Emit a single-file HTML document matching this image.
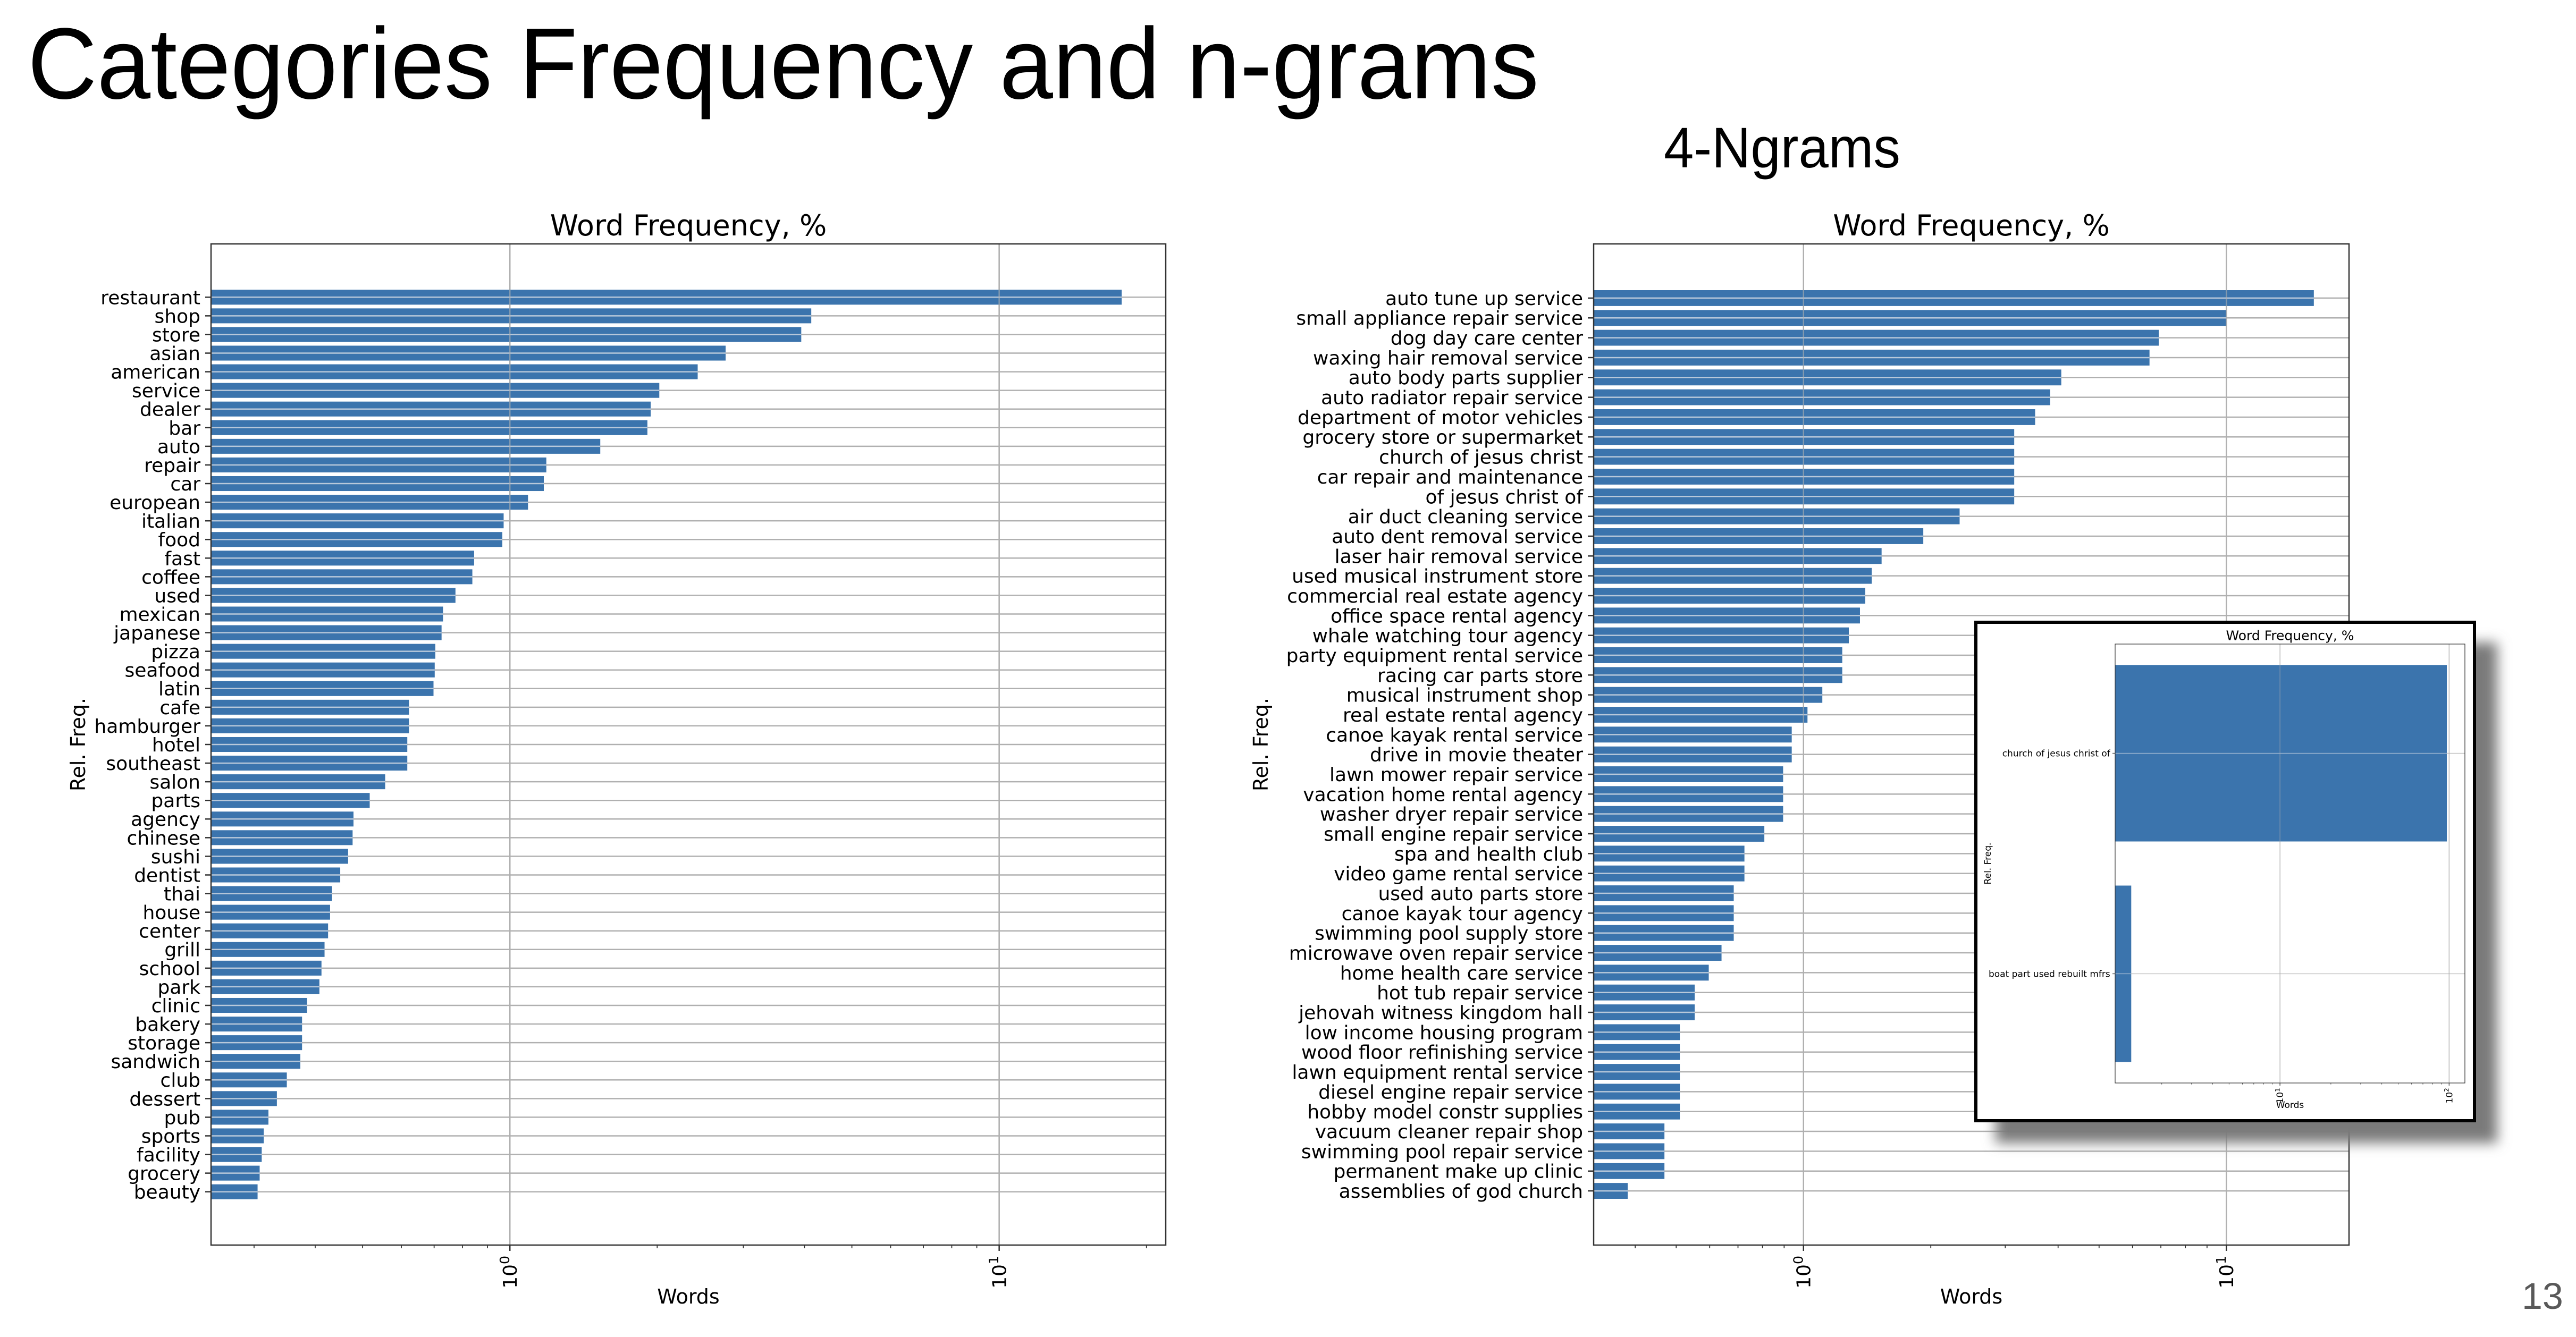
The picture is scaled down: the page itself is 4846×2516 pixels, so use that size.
<!DOCTYPE html>
<html><head><meta charset="utf-8"><style>
html,body{margin:0;padding:0;background:#fff;width:4846px;height:2516px;overflow:hidden}
svg{display:block}
text{font-family:"DejaVu Sans","Liberation Sans",sans-serif;fill:#000}
</style></head><body>
<svg id="root" width="4846" height="2516" viewBox="0 0 4846 2516" xmlns="http://www.w3.org/2000/svg">
<defs><filter id="blur" x="-10%" y="-10%" width="130%" height="130%"><feGaussianBlur stdDeviation="12"/></filter></defs>
<rect width="4846" height="2516" fill="#fff"/>
<text x="52" y="185" font-size="190" textLength="2843" lengthAdjust="spacingAndGlyphs" style="font-family:'Liberation Sans',sans-serif">Categories Frequency and n-grams</text>
<text x="3130" y="315" font-size="108" textLength="445" lengthAdjust="spacingAndGlyphs" style="font-family:'Liberation Sans',sans-serif">4-Ngrams</text>
<text x="4744" y="2463" font-size="70" style="font-family:'Liberation Sans',sans-serif;fill:#595959">13</text>
<g id="leftChart"></g>
<g id="rightChart"></g>
<g id="inset"></g>
</svg>
<script>
const leftCategories=["restaurant","shop","store","asian","american","service","dealer","bar","auto","repair","car","european","italian","food","fast","coffee","used","mexican","japanese","pizza","seafood","latin","cafe","hamburger","hotel","southeast","salon","parts","agency","chinese","sushi","dentist","thai","house","center","grill","school","park","clinic","bakery","storage","sandwich","club","dessert","pub","sports","facility","grocery","beauty"];
const leftValues=[17.8,4.13,3.94,2.76,2.42,2.02,1.94,1.91,1.53,1.187,1.173,1.089,0.971,0.965,0.845,0.838,0.774,0.730,0.725,0.704,0.702,0.698,0.622,0.622,0.617,0.617,0.556,0.517,0.479,0.477,0.467,0.450,0.433,0.429,0.425,0.418,0.412,0.408,0.385,0.376,0.376,0.373,0.350,0.334,0.321,0.314,0.311,0.308,0.305];
const rightCategories=["auto tune up service","small appliance repair service","dog day care center","waxing hair removal service","auto body parts supplier","auto radiator repair service","department of motor vehicles","grocery store or supermarket","church of jesus christ","car repair and maintenance","of jesus christ of","air duct cleaning service","auto dent removal service","laser hair removal service","used musical instrument store","commercial real estate agency","office space rental agency","whale watching tour agency","party equipment rental service","racing car parts store","musical instrument shop","real estate rental agency","canoe kayak rental service","drive in movie theater","lawn mower repair service","vacation home rental agency","washer dryer repair service","small engine repair service","spa and health club","video game rental service","used auto parts store","canoe kayak tour agency","swimming pool supply store","microwave oven repair service","home health care service","hot tub repair service","jehovah witness kingdom hall","low income housing program","wood floor refinishing service","lawn equipment rental service","diesel engine repair service","hobby model constr supplies","vacuum cleaner repair shop","swimming pool repair service","permanent make up clinic","assemblies of god church"];
const rightValues=[16.1,10.0,6.92,6.58,4.07,3.83,3.53,3.15,3.15,3.15,3.15,2.34,1.92,1.53,1.45,1.40,1.36,1.28,1.235,1.235,1.108,1.022,0.938,0.938,0.895,0.895,0.895,0.808,0.725,0.725,0.684,0.684,0.684,0.640,0.597,0.553,0.553,0.510,0.510,0.510,0.510,0.510,0.469,0.469,0.469,0.384];
const insetCategories=["church of jesus christ of","boat part used rebuilt mfrs"];
const insetValues=[97,1.32];
const xTickExponents=[-1,0,1,2];

const NS="http://www.w3.org/2000/svg";
function mk(parent,tag,attrs){const e=document.createElementNS(NS,tag);for(const k in attrs)e.setAttribute(k,attrs[k]);parent.appendChild(e);return e;}

function drawChart(g,cats,vals,c){
  const n=cats.length;
  const spacing=(c.bottom-c.top)/(n-1+2*c.pad);
  const yS=i=>c.top+(i+c.pad)*spacing;
  const lmin=Math.log10(c.xmin),lmax=Math.log10(c.xmax);
  const xS=v=>c.left+(Math.log10(v)-lmin)/(lmax-lmin)*(c.right-c.left);
  const bh=spacing*c.barFrac;
  for(const e of xTickExponents){const v=Math.pow(10,e);if(v<c.xmin||v>c.xmax)continue;
    const l=mk(g,'line',{x1:xS(v),x2:xS(v),y1:c.top,y2:c.bottom,stroke:'#b0b0b0','stroke-width':c.gw});
    
    }
  for(let i=0;i<n;i++){
    const l=mk(g,'line',{x1:c.left,x2:c.right,y1:yS(i),y2:yS(i),stroke:'#b0b0b0','stroke-width':c.gw});
    
    }
  for(let i=0;i<n;i++){
    const r=mk(g,'rect',{x:c.left,y:yS(i)-bh/2,width:Math.max(0,xS(vals[i])-c.left),height:bh,fill:'#3b74ad'});
    
    
  }
  for(let i=0;i<n;i++){
    const l=mk(g,'line',{x1:c.left,x2:xS(vals[i]),y1:yS(i),y2:yS(i),stroke:'#b8c8da','stroke-width':c.gw});
    
    }
  for(const e of xTickExponents){const v=Math.pow(10,e);if(v<c.xmin||v>c.xmax)continue;
    const l=mk(g,'line',{x1:xS(v),x2:xS(v),y1:c.top,y2:c.bottom,stroke:'#b0b0b0','stroke-width':c.gw,opacity:0.6});
    
    }
  const f=mk(g,'rect',{x:c.left,y:c.top,width:c.right-c.left,height:c.bottom-c.top,fill:'none',stroke:'#333','stroke-width':c.fw});
  
  
  for(let i=0;i<n;i++){
    const t=mk(g,'line',{x1:c.left-c.tl,x2:c.left,y1:yS(i),y2:yS(i),stroke:'#333','stroke-width':c.fw});
    
    
    const tx=mk(g,'text',{x:c.left-c.tl-c.fs*0.25,y:yS(i)+c.fs*0.36,'font-size':c.fs,'text-anchor':'end'});
    tx.textContent=cats[i];
    
    
  }
  for(let e=-2;e<=2;e++){for(let m=1;m<10;m++){const v=m*Math.pow(10,e);if(v<c.xmin||v>c.xmax)continue;
    const major=m===1;
    const t=mk(g,'line',{x1:xS(v),x2:xS(v),y1:c.bottom,y2:c.bottom+(major?c.tl:c.tl*0.55),stroke:'#333','stroke-width':major?c.fw:c.fw*0.7});
    
    
    if(major){
      const x=xS(v)+c.fs*0.36,y=c.bottom+c.tl+c.fs*0.25;
      const tx=mk(g,'text',{x:x,y:y,'font-size':c.fs,'text-anchor':'end',transform:`rotate(-90 ${x} ${y})`});
      
      
      const a=mk(tx,'tspan',{});a.textContent='10';
      const b=mk(tx,'tspan',{dy:-c.fs*0.4,'font-size':c.fs*0.7});b.textContent=String(e);
    }
  }}
  const ti=mk(g,'text',{x:(c.left+c.right)/2,y:c.top-c.tfs*0.3,'font-size':c.tfs,'text-anchor':'middle'});
  ti.textContent='Word Frequency, %';
  
  
  const xl=mk(g,'text',{x:(c.left+c.right)/2,y:c.xly,'font-size':c.lfs,'text-anchor':'middle'});
  xl.textContent='Words';
  
  
  const yl=mk(g,'text',{x:c.ylx,y:(c.top+c.bottom)/2,'font-size':c.lfs,'text-anchor':'middle',transform:`rotate(-90 ${c.ylx} ${(c.top+c.bottom)/2})`});
  yl.textContent='Rel. Freq.';
  
  
}

drawChart(document.getElementById('leftChart'),leftCategories,leftValues,
 {left:397,right:2193,top:459,bottom:2343,pad:2.86,xmin:0.245,xmax:21.9,barFrac:0.8,fs:36,tfs:54,lfs:38,tl:11,fw:2.5,gw:2.5,xly:2453,ylx:160});
drawChart(document.getElementById('rightChart'),rightCategories,rightValues,
 {left:2998,right:4419,top:459,bottom:2343,pad:2.73,xmin:0.319,xmax:19.5,barFrac:0.8,fs:36,tfs:54,lfs:38,tl:11,fw:2.5,gw:2.5,xly:2453,ylx:2385});

const ins=document.getElementById('inset');
const sh=mk(ins,'rect',{x:3754,y:1209,width:944,height:942,fill:'#7a7a7a',filter:'url(#blur)'});


const bx=mk(ins,'rect',{x:3717,y:1171,width:938,height:938,fill:'#fff',stroke:'#000','stroke-width':6});


const ig=mk(ins,'g',{});


drawChart(ig,insetCategories,insetValues,
 {left:3979,right:4637,top:1212,bottom:2038,pad:0.495,xmin:1.06,xmax:124,barFrac:0.8,fs:17,tfs:25,lfs:17,tl:5,fw:1.2,gw:1.2,xly:2085,ylx:3745});
</script>
</body></html>
